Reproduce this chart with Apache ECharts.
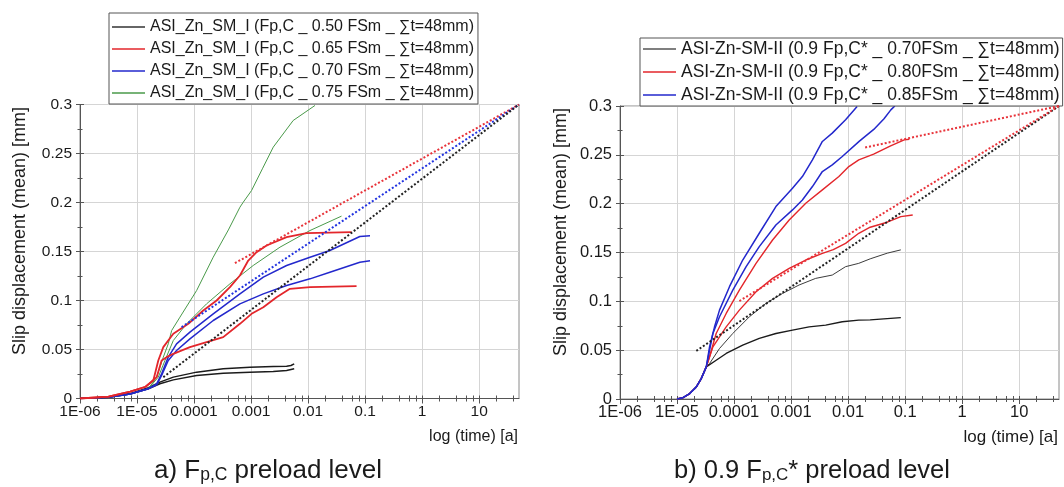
<!DOCTYPE html>
<html><head><meta charset="utf-8">
<script src="https://cdn.jsdelivr.net/npm/echarts@6/dist/echarts.min.js"></script>
<style>html,body{margin:0;padding:0;background:#fff}#c{width:1064px;height:487px}</style>
</head><body><div id="c"></div>
<script>
// ---------- axis ticks / labels ----------
const xTickValues = [1e-6, 1e-5, 1e-4, 1e-3, 1e-2, 0.1, 1, 10];
const xTickLabels = ['1E-06', '1E-05', '0.0001', '0.001', '0.01', '0.1', '1', '10'];
const xMinorMultipliers = [2, 4, 6, 8];
const yTickLabels = ['0', '0.05', '0.1', '0.15', '0.2', '0.25', '0.3'];
const X_MIN = 1e-6, X_MAX = 50, Y_MIN = 0, Y_MAX = 0.3, Y_STEP = 0.05;

// ---------- chart a) Fp,C preload level ----------
const legendA = [
  'ASI_Zn_SM_I (Fp,C _ 0.50 FSm _ \u2211t=48mm)',
  'ASI_Zn_SM_I (Fp,C _ 0.65 FSm _ \u2211t=48mm)',
  'ASI_Zn_SM_I (Fp,C _ 0.70 FSm _ \u2211t=48mm)',
  'ASI_Zn_SM_I (Fp,C _ 0.75 FSm _ \u2211t=48mm)'
];
const a050_1_t = [1e-6, 3.16e-6, 7.59e-6, 1.58e-5, 2.52e-5, 4.33e-5, 1.11e-4, 3.25e-4, 9.55e-4, 2.45e-3, 4.20e-3, 5.0e-3, 5.71e-3];
const a050_1_v = [0, 0.0015, 0.005, 0.011, 0.0167, 0.0218, 0.0269, 0.0303, 0.032, 0.0327, 0.033, 0.0337, 0.0354];
const a050_2_t = [1e-6, 3.16e-6, 7.59e-6, 1.58e-5, 2.52e-5, 4.33e-5, 1.11e-4, 3.25e-4, 9.55e-4, 2.45e-3, 4.20e-3, 5.71e-3];
const a050_2_v = [0, 0.0013, 0.0045, 0.010, 0.015, 0.019, 0.0235, 0.0258, 0.0269, 0.0276, 0.0286, 0.0303];
const a065_1_t = [1e-6, 3.16e-6, 7.59e-6, 1.41e-5, 1.93e-5, 2.36e-5, 2.89e-5, 4.33e-5, 7.93e-5, 1.45e-4, 2.49e-4, 4.26e-4, 6.38e-4, 8.93e-4, 1.25e-3, 1.87e-3, 4.20e-3, 9.40e-3, 5.78e-2];
const a065_1_v = [0, 0.002, 0.007, 0.012, 0.0184, 0.0388, 0.0524, 0.066, 0.0762, 0.0898, 0.100, 0.1136, 0.1255, 0.1408, 0.1493, 0.1561, 0.1646, 0.1687, 0.1697];
const a065_2_t = [1e-6, 3.16e-6, 7.59e-6, 1.41e-5, 2.21e-5, 2.70e-5, 3.30e-5, 4.33e-5, 8.47e-5, 1.66e-4, 3.25e-4, 6.38e-4, 1.02e-3, 1.64e-3, 2.80e-3, 4.80e-3, 1.08e-2, 7.08e-2];
const a065_2_v = [0, 0.002, 0.007, 0.012, 0.0218, 0.0388, 0.0422, 0.0456, 0.0524, 0.0575, 0.0626, 0.0762, 0.0864, 0.0932, 0.1034, 0.1119, 0.1136, 0.1146];
const a070_1_t = [1e-6, 3.16e-6, 7.59e-6, 1.58e-5, 2.21e-5, 2.70e-5, 3.53e-5, 4.94e-5, 8.47e-5, 2.17e-4, 6.38e-4, 1.64e-3, 4.20e-3, 1.08e-2, 2.41e-2, 8.09e-2, 0.122];
const a070_1_v = [0, 0.0013, 0.0045, 0.010, 0.015, 0.0252, 0.0422, 0.0558, 0.0677, 0.0864, 0.1068, 0.1238, 0.1357, 0.1442, 0.151, 0.1653, 0.166];
const a070_2_t = [1e-6, 3.16e-6, 7.59e-6, 1.58e-5, 2.21e-5, 2.70e-5, 3.53e-5, 4.94e-5, 8.47e-5, 2.17e-4, 6.38e-4, 1.64e-3, 4.20e-3, 1.08e-2, 2.41e-2, 8.09e-2, 0.122];
const a070_2_v = [0, 0.0013, 0.0045, 0.010, 0.014, 0.0235, 0.0388, 0.049, 0.0609, 0.0796, 0.0966, 0.1068, 0.1153, 0.1221, 0.1289, 0.1391, 0.1405];
const a075_1_t = [1e-6, 3.16e-6, 7.59e-6, 1.58e-5, 2.21e-5, 2.89e-5, 3.53e-5, 4.05e-5, 5.66e-5, 1.11e-4, 2.17e-4, 4.0e-4, 6.38e-4, 7.29e-4, 1.02e-3, 1.6e-3, 2.45e-3, 5.48e-3, 1.32e-2];
const a075_1_v = [0, 0.0013, 0.0045, 0.010, 0.0218, 0.0422, 0.0558, 0.0694, 0.083, 0.1102, 0.1442, 0.172, 0.1952, 0.2003, 0.2122, 0.235, 0.2565, 0.2837, 0.299];
const a075_2_t = [1e-6, 3.16e-6, 7.59e-6, 1.58e-5, 2.36e-5, 3.09e-5, 4.33e-5, 7.41e-5, 1.66e-4, 4.26e-4, 1.09e-3, 3.21e-3, 1.08e-2, 3.86e-2];
const a075_2_v = [0, 0.0013, 0.0045, 0.010, 0.0218, 0.0388, 0.0592, 0.0762, 0.0966, 0.117, 0.1357, 0.1544, 0.1714, 0.1861];
// trend lines (dotted)
const aTrendRed_t = [5.21e-4, 50], aTrendRed_v = [0.1381, 0.3];
const aTrendBlue_t = [6.05e-5, 50], aTrendBlue_v = [0.0728, 0.3];
const aTrendBlack_t = [2.89e-5, 50], aTrendBlack_v = [0.0218, 0.3];

// ---------- chart b) 0.9 Fp,C* preload level ----------
const legendB = [
  'ASI-Zn-SM-II (0.9 Fp,C* _ 0.70FSm _ \u2211t=48mm)',
  'ASI-Zn-SM-II (0.9 Fp,C* _ 0.80FSm _ \u2211t=48mm)',
  'ASI-Zn-SM-II (0.9 Fp,C* _ 0.85FSm _ \u2211t=48mm)'
];
const bStart_t = [1e-5, 1.27e-5, 1.67e-5, 2.18e-5, 2.66e-5, 3.26e-5];
const bStart_v = [0, 0.0013, 0.0056, 0.0124, 0.0209, 0.0329];
const b070_1_t = [3.72e-5, 5.56e-5, 9.51e-5, 1.86e-4, 3.63e-4, 7.08e-4, 1.38e-3, 2.70e-3, 5.28e-3, 9.04e-3, 1.54e-2, 2.44e-2, 4.86e-2, 8.41e-2];
const b070_1_v = [0.0363, 0.0517, 0.0671, 0.0842, 0.0979, 0.1081, 0.1167, 0.1235, 0.1269, 0.1355, 0.1389, 0.1435, 0.1493, 0.1527];
const b070_2_t = [4.86e-5, 7.28e-5, 1.42e-4, 2.77e-4, 5.42e-4, 1.06e-3, 2.07e-3, 4.05e-3, 7.91e-3, 1.54e-2, 2.44e-2, 4.86e-2, 8.41e-2];
const b070_2_v = [0.0397, 0.0466, 0.0551, 0.062, 0.0671, 0.0705, 0.0739, 0.0756, 0.0791, 0.0808, 0.081, 0.0823, 0.0833];
const b080_1_t = [3.72e-5, 4.86e-5, 7.28e-5, 1.24e-4, 2.43e-4, 4.74e-4, 9.27e-4, 1.81e-3, 3.54e-3, 6.90e-3, 1.03e-2, 1.54e-2, 2.81e-2, 5.57e-2, 9.66e-2, 0.119];
const b080_1_v = [0.0432, 0.0671, 0.0876, 0.1115, 0.1389, 0.1628, 0.1833, 0.2004, 0.2141, 0.2278, 0.238, 0.2449, 0.2507, 0.2592, 0.2653, 0.266];
const b080_2_t = [4.26e-5, 7.28e-5, 1.24e-4, 2.43e-4, 4.74e-4, 9.27e-4, 1.81e-3, 3.54e-3, 5.5e-3, 9.04e-3, 1.54e-2, 2.44e-2, 4.86e-2, 8.41e-2, 0.136];
const b080_2_v = [0.0534, 0.0739, 0.091, 0.1098, 0.1235, 0.1338, 0.1423, 0.1491, 0.153, 0.1594, 0.1697, 0.1759, 0.181, 0.1867, 0.1884];
const b085_1_t = [3.72e-5, 4.55e-5, 5.56e-5, 8.32e-5, 1.42e-4, 2.77e-4, 5.42e-4, 1.06e-3, 1.58e-3, 2.37e-3, 3.54e-3, 5.28e-3, 9.04e-3, 1.44e-2];
const b085_1_v = [0.0534, 0.0739, 0.091, 0.115, 0.1423, 0.1697, 0.197, 0.2158, 0.2278, 0.2449, 0.2637, 0.2722, 0.2859, 0.2996];
const b085_2_t = [4.26e-5, 5.56e-5, 9.51e-5, 1.63e-4, 2.77e-4, 5.42e-4, 1.06e-3, 1.58e-3, 2.37e-3, 3.54e-3, 5.28e-3, 7.91e-3, 1.58e-2, 2.82e-2, 4.27e-2, 5.62e-2, 6.61e-2];
const b085_2_v = [0.0671, 0.0842, 0.1115, 0.1355, 0.156, 0.1782, 0.1936, 0.2038, 0.2175, 0.2329, 0.2397, 0.2483, 0.264, 0.276, 0.287, 0.296, 0.3];
const bTrendBlack_t = [2.18e-5, 50], bTrendBlack_v = [0.0493, 0.3];
const bTrendRed1_t = [1.24e-4, 50], bTrendRed1_v = [0.1003, 0.3];
const bTrendRed2_t = [1.99e-2, 50], bTrendRed2_v = [0.2575, 0.3];

// ---------- build ----------
const FONT = "'Liberation Sans', Arial, Helvetica, sans-serif";
const AXIS_C = '#555';
const GRID_C = '#d5d5d5';
const TXT_C = '#1a1a1a';
const C_BLACK = '#1b1b1b', C_RED = '#e3262b', C_BLUE = '#2328cc', C_GREEN = '#4a9a4a', C_GRAY = '#3c3c3c';

const xMinorValues = [];
xTickValues.forEach(d => xMinorMultipliers.forEach(m => { if (d * m < X_MAX) xMinorValues.push(d * m); }));

const pairs = (t, v) => t.map((x, i) => [x, v[i]]);

function xLabel(v) {
  const k = Math.round(Math.log10(v)) + 6;
  return (k >= 0 && k < xTickLabels.length && Math.abs(Math.log10(v) - (k - 6)) < 1e-6) ? xTickLabels[k] : '';
}
function yLabel(v) {
  const k = Math.round(v / Y_STEP);
  return yTickLabels[k] || '';
}

function xAxesFor(g, fs) {
  const base = { type: 'log', logBase: 10, gridIndex: g, min: X_MIN, max: X_MAX, position: 'bottom', silent: true };
  return [
    Object.assign({}, base, {
      axisLine: { show: true, onZero: false, lineStyle: { color: AXIS_C, width: 1 } },
      axisTick: { show: true, inside: false, length: 5, customValues: xTickValues, lineStyle: { color: AXIS_C, width: 1 } },
      axisLabel: { show: true, customValues: xTickValues, formatter: xLabel, color: TXT_C, fontSize: fs, fontFamily: FONT, margin: 5, hideOverlap: false },
      splitLine: { show: true, lineStyle: { color: GRID_C, width: 1 } },
      minorTick: { show: false }, minorSplitLine: { show: false }
    }),
    Object.assign({}, base, {
      axisLine: { show: false, onZero: false },
      axisTick: { show: true, inside: false, length: 3, customValues: xMinorValues, lineStyle: { color: AXIS_C, width: 1 } },
      axisLabel: { show: false }, splitLine: { show: false }
    }),
    Object.assign({}, base, {
      axisLine: { show: false, onZero: false },
      axisTick: { show: true, inside: true, length: 3, customValues: xMinorValues.concat(xTickValues), lineStyle: { color: AXIS_C, width: 1 } },
      axisLabel: { show: false }, splitLine: { show: false }
    })
  ];
}
function yAxesFor(g, fs) {
  const base = { type: 'value', gridIndex: g, min: Y_MIN, max: Y_MAX, interval: Y_STEP, position: 'left', silent: true };
  return [
    Object.assign({}, base, {
      axisLine: { show: true, onZero: false, lineStyle: { color: AXIS_C, width: 1 } },
      axisTick: { show: true, inside: false, length: 4, lineStyle: { color: AXIS_C, width: 1 } },
      minorTick: { show: true, splitNumber: 2, length: 2.5, lineStyle: { color: AXIS_C, width: 1 } },
      axisLabel: { show: true, formatter: yLabel, color: TXT_C, fontSize: fs, fontFamily: FONT, margin: 8 },
      splitLine: { show: true, lineStyle: { color: GRID_C, width: 1 } }
    }),
    Object.assign({}, base, {
      axisLine: { show: false, onZero: false },
      axisTick: { show: true, inside: true, length: 4, lineStyle: { color: AXIS_C, width: 1 } },
      minorTick: { show: true, splitNumber: 2, length: 2.5, lineStyle: { color: AXIS_C, width: 1 } },
      axisLabel: { show: false }, splitLine: { show: false }
    })
  ];
}

function line(name, t, v, color, width, g, dotted, z) {
  return {
    type: 'line', name: name, xAxisIndex: g * 3, yAxisIndex: g * 2,
    data: pairs(t, v), symbol: 'none', showSymbol: false, smooth: false,
    lineStyle: { color: color, width: width, type: dotted ? 'dotted' : 'solid' },
    itemStyle: { color: color }, emphasis: { disabled: true }, silent: true, z: z || 3
  };
}

const series = [
  // a)
  line(legendA[0], a050_1_t, a050_1_v, C_BLACK, 1.5, 0),
  line(legendA[0], a050_2_t, a050_2_v, C_BLACK, 1.5, 0),
  line(legendA[3], a075_1_t, a075_1_v, C_GREEN, 1, 0),
  line(legendA[3], a075_2_t, a075_2_v, C_GREEN, 1, 0),
  line(legendA[2], a070_1_t, a070_1_v, C_BLUE, 1.5, 0),
  line(legendA[2], a070_2_t, a070_2_v, C_BLUE, 1.5, 0),
  line(legendA[1], a065_1_t, a065_1_v, C_RED, 1.8, 0),
  line(legendA[1], a065_2_t, a065_2_v, C_RED, 1.8, 0),
  line('trend a red', aTrendRed_t, aTrendRed_v, '#e8333a', 2, 0, true, 4),
  line('trend a blue', aTrendBlue_t, aTrendBlue_v, '#2233e0', 2, 0, true, 4),
  line('trend a black', aTrendBlack_t, aTrendBlack_v, '#222', 2, 0, true, 4),
  // b)
  line(legendB[0], bStart_t.concat(b070_1_t), bStart_v.concat(b070_1_v), C_GRAY, 1, 1),
  line(legendB[0], bStart_t.concat(b070_2_t), bStart_v.concat(b070_2_v), C_BLACK, 1.4, 1),
  line(legendB[1], bStart_t.concat(b080_1_t), bStart_v.concat(b080_1_v), C_RED, 1.4, 1),
  line(legendB[1], bStart_t.concat(b080_2_t), bStart_v.concat(b080_2_v), C_RED, 1.4, 1),
  line(legendB[2], bStart_t.concat(b085_1_t), bStart_v.concat(b085_1_v), C_BLUE, 1.5, 1),
  line(legendB[2], bStart_t.concat(b085_2_t), bStart_v.concat(b085_2_v), C_BLUE, 1.5, 1),
  line('trend b black', bTrendBlack_t, bTrendBlack_v, '#222', 2, 1, true, 4),
  line('trend b red 1', bTrendRed1_t, bTrendRed1_v, '#e8333a', 2, 1, true, 4),
  line('trend b red 2', bTrendRed2_t, bTrendRed2_v, '#e8333a', 2, 1, true, 4)
];

const legendColorsA = ['#333333', C_RED, C_BLUE, C_GREEN];
const legendColorsB = ['#555555', C_RED, C_BLUE];

const legendCommon = {
  orient: 'vertical', itemWidth: 33, itemHeight: 1.5, icon: 'rect',
  backgroundColor: '#fff', borderColor: '#555', borderWidth: 1, borderRadius: 0,
  selectedMode: false
};

const option = {
  animation: false,
  backgroundColor: '#fff',
  grid: [
    { left: 80, top: 104.5, width: 439, height: 294, show: true, borderColor: '#8a8a8a', borderWidth: 1, backgroundColor: 'transparent', containLabel: false, outerBoundsMode: 'none' },
    { left: 620, top: 106, width: 439, height: 293, show: true, borderColor: '#8a8a8a', borderWidth: 1, backgroundColor: 'transparent', containLabel: false, outerBoundsMode: 'none' }
  ],
  xAxis: xAxesFor(0, 15.5).concat(xAxesFor(1, 16.5)),
  yAxis: yAxesFor(0, 15.5).concat(yAxesFor(1, 16.5)),
  legend: [
    Object.assign({}, legendCommon, { left: 109, top: 13, padding: [6, 4, 3, 3], itemGap: 6,
      textStyle: { fontSize: 16, fontFamily: FONT, color: TXT_C, lineHeight: 16 },
      data: legendA.map((n, i) => ({ name: n, itemStyle: { color: legendColorsA[i] } })) }),
    Object.assign({}, legendCommon, { left: 640, top: 38, padding: [2, 3, 2, 3], itemGap: 5,
      textStyle: { fontSize: 17.5, fontFamily: FONT, color: TXT_C, lineHeight: 17 },
      data: legendB.map((n, i) => ({ name: n, itemStyle: { color: legendColorsB[i] } })) })
  ],
  graphic: [
    { type: 'text', x: 20, y: 231, rotation: Math.PI / 2, silent: true,
      style: { text: 'Slip displacement (mean) [mm]', fontSize: 18, fontFamily: FONT, fill: TXT_C, align: 'center', verticalAlign: 'middle' } },
    { type: 'text', x: 561, y: 232, rotation: Math.PI / 2, silent: true,
      style: { text: 'Slip displacement (mean) [mm]', fontSize: 18, fontFamily: FONT, fill: TXT_C, align: 'center', verticalAlign: 'middle' } },
    { type: 'text', x: 518, y: 437, silent: true,
      style: { text: 'log (time) [a]', fontSize: 16, fontFamily: FONT, fill: TXT_C, align: 'right', verticalAlign: 'middle' } },
    { type: 'text', x: 1058, y: 437, silent: true,
      style: { text: 'log (time) [a]', fontSize: 17, fontFamily: FONT, fill: TXT_C, align: 'right', verticalAlign: 'middle' } },
    { type: 'text', x: 268, y: 470, silent: true,
      style: { text: '{m|a) F}{s|p,C}{m| preload level}', align: 'center', verticalAlign: 'middle',
        rich: { m: { fontSize: 26, fontFamily: FONT, fill: TXT_C, verticalAlign: 'bottom', lineHeight: 28 },
                s: { fontSize: 17.5, fontFamily: FONT, fill: TXT_C, verticalAlign: 'bottom', lineHeight: 28 } } } },
    { type: 'text', x: 812, y: 470, silent: true,
      style: { text: '{m|b) 0.9 F}{s|p,C}{m|* preload level}', align: 'center', verticalAlign: 'middle',
        rich: { m: { fontSize: 25.5, fontFamily: FONT, fill: TXT_C, verticalAlign: 'bottom', lineHeight: 28 },
                s: { fontSize: 17, fontFamily: FONT, fill: TXT_C, verticalAlign: 'bottom', lineHeight: 28 } } } }
  ],
  series: series
};

const chart = echarts.init(document.getElementById('c'), null, { renderer: 'canvas' });
chart.setOption(option);
</script>
</body></html>
